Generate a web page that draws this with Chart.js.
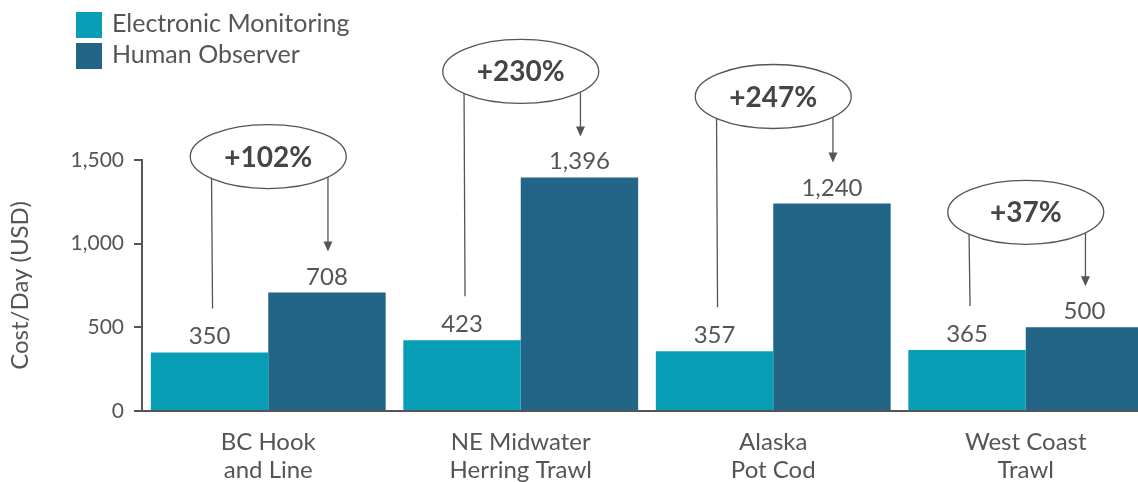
<!DOCTYPE html>
<html>
<head>
<meta charset="utf-8">
<script src="https://cdn.jsdelivr.net/npm/chart.js@4/dist/chart.umd.min.js"></script>
<style>
    html, body { margin: 0; padding: 0; background: #fff; overflow: hidden; }
    #wrap { position: relative; width: 1156px; height: 482px; }
</style>
</head>
<body>
<div id="wrap"><canvas id="chart"></canvas></div>
<script>
// Data
const categories = [['BC Hook', 'and Line'], ['NE Midwater', 'Herring Trawl'], ['Alaska', 'Pot Cod'], ['West Coast', 'Trawl']];
const electronicMonitoring = [350, 423, 357, 365];
const humanObserver = [708, 1396, 1240, 500];
const yTicks = [0, 500, 1000, 1500];

const TEXT = '#555555';
const FONT = 'Lato, "Open Sans", sans-serif';

// How far above the observer bar each callout ellipse sits (px)
const calloutLift = [136, 106, 107, 115];

// Legend, value labels and percentage callouts
const annotations = {
    id: 'annotations',

    afterDatasetsDraw(chart) {
        const ctx = chart.ctx;
        const em = chart.getDatasetMeta(0).data;
        const ho = chart.getDatasetMeta(1).data;

        ctx.save();

        // Legend
        chart.data.datasets.forEach((ds, i) => {
            const y = 12 + i * 31;
            ctx.fillStyle = ds.backgroundColor;
            ctx.fillRect(76, y, 26, 26);
            ctx.fillStyle = TEXT;
            ctx.font = '25px ' + FONT;
            ctx.textAlign = 'left';
            ctx.textBaseline = 'middle';
            ctx.fillText(ds.label, 112, y + 12);
        });

        // Value labels
        ctx.font = '24px ' + FONT;
        ctx.textAlign = 'center';
        ctx.textBaseline = 'alphabetic';
        ctx.fillStyle = TEXT;
        [em, ho].forEach((bars, d) => {
            bars.forEach((bar, i) => {
                const v = chart.data.datasets[d].data[i];
                ctx.fillText(v.toLocaleString('en-US'), bar.x, bar.y - 8);
            });
        });

        // Callouts
        const rx = 78, ry = 32;
        em.forEach((bar, i) => {
            const other = ho[i];
            const cx = (bar.x + other.x) / 2;
            const cy = other.y - calloutLift[i];
            const pct = Math.round((humanObserver[i] / electronicMonitoring[i] - 1) * 100);

            ctx.strokeStyle = TEXT;
            ctx.lineWidth = 1.3;

            // left connector
            const lx = bar.x + 2;
            const lTop = cy + ry * Math.sqrt(Math.max(0, 1 - Math.pow((lx - cx) / rx, 2)));
            ctx.beginPath();
            ctx.moveTo(lx, lTop);
            ctx.lineTo(lx + 1, bar.y - 44);
            ctx.stroke();

            // right arrow
            const ax = other.x + 1;
            const aTop = cy + ry * Math.sqrt(Math.max(0, 1 - Math.pow((ax - cx) / rx, 2)));
            const tip = other.y - 41;
            ctx.beginPath();
            ctx.moveTo(ax, aTop);
            ctx.lineTo(ax, tip - 8);
            ctx.stroke();
            ctx.fillStyle = TEXT;
            ctx.beginPath();
            ctx.moveTo(ax - 4.5, tip - 10);
            ctx.lineTo(ax + 4.5, tip - 10);
            ctx.lineTo(ax, tip);
            ctx.closePath();
            ctx.fill();

            // ellipse
            ctx.beginPath();
            ctx.ellipse(cx, cy, rx, ry, 0, 0, Math.PI * 2);
            ctx.fillStyle = '#ffffff';
            ctx.fill();
            ctx.stroke();

            ctx.fillStyle = '#454545';
            ctx.font = 'bold 28px ' + FONT;
            ctx.textAlign = 'center';
            ctx.textBaseline = 'middle';
            ctx.fillText('+' + pct + '%', cx, cy + 1);
        });

        ctx.restore();
    }
};

new Chart(document.getElementById('chart'), {
    type: 'bar',
    data: {
        labels: categories,
        datasets: [
            {
                label: 'Electronic Monitoring',
                data: electronicMonitoring,
                backgroundColor: '#079db4',
                categoryPercentage: 0.93,
                barPercentage: 1.0
            },
            {
                label: 'Human Observer',
                data: humanObserver,
                backgroundColor: '#226587',
                categoryPercentage: 0.93,
                barPercentage: 1.0
            }
        ]
    },
    options: {
        responsive: true,
        maintainAspectRatio: false,
        animation: false,
        layout: {
            padding: { top: 160, right: 4, bottom: 0, left: 0 }
        },
        plugins: {
            legend: { display: false },
            tooltip: { enabled: false }
        },
        scales: {
            x: {
                grid: { display: false },
                border: { display: true, color: TEXT, width: 2 },
                ticks: {
                    color: TEXT,
                    padding: 9,
                    font: { family: FONT, size: 24, lineHeight: 1.17 }
                },
                afterFit(scale) { scale.height = 71; }
            },
            y: {
                min: 0,
                max: 1500,
                afterBuildTicks(scale) {
                    scale.ticks = yTicks.map(v => ({ value: v }));
                },
                grid: {
                    drawOnChartArea: false,
                    drawTicks: true,
                    tickLength: 8,
                    color: TEXT,
                    lineWidth: 2
                },
                border: { display: true, color: TEXT, width: 2 },
                ticks: {
                    color: TEXT,
                    padding: 10,
                    font: { family: FONT, size: 21 },
                    callback: v => v.toLocaleString('en-US')
                },
                title: {
                    display: true,
                    text: 'Cost/Day (USD)',
                    color: TEXT,
                    padding: { top: 6, bottom: 0 },
                    font: { family: FONT, size: 24 }
                },
                afterFit(scale) { scale.width = 142; }
            }
        }
    },
    plugins: [annotations]
});
</script>
</body>
</html>
